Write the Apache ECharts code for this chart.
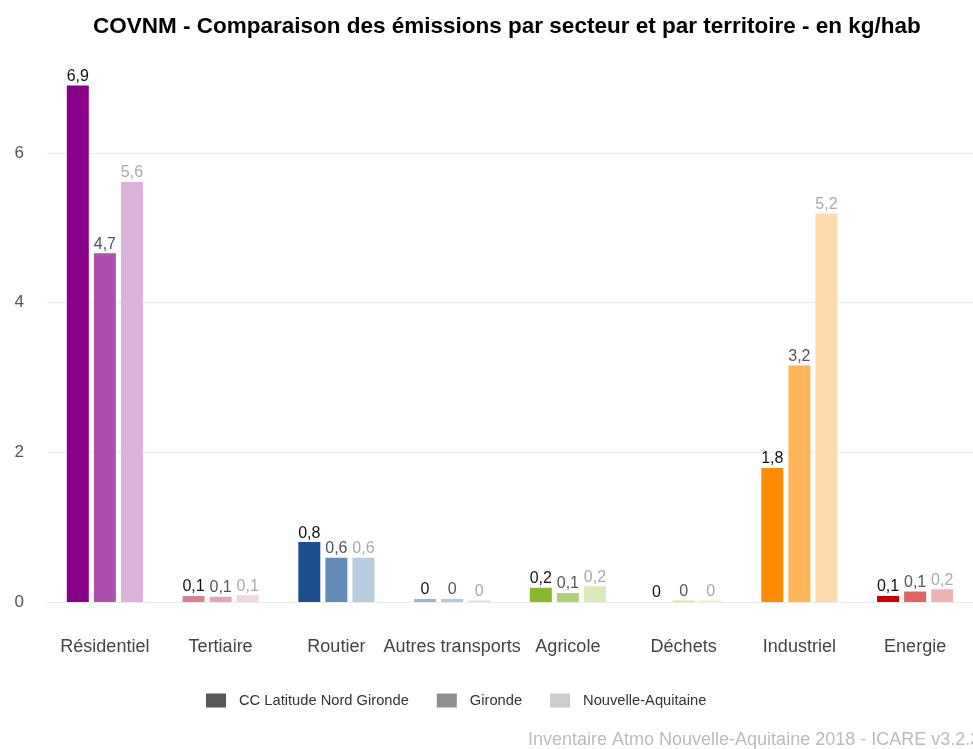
<!DOCTYPE html>
<html lang="fr">
<head>
    <meta charset="UTF-8">
    <title>COVNM</title>
    <style>
        body { margin: 0; background: #fff; }
    </style>
</head>
<body>
<div id="main" style="width: 973px;height:749px;"></div>
<script src="https://cdn.jsdelivr.net/npm/echarts@6/dist/echarts.min.js"></script>
<script>

// categories / territories
const secteurs = ['Résidentiel', 'Tertiaire', 'Routier', 'Autres transports', 'Agricole', 'Déchets', 'Industriel', 'Energie']
const territoires = ['CC Latitude Nord Gironde', 'Gironde', 'Nouvelle-Aquitaine']

// kg/hab
const valCC = [6.9, 0.08, 0.8, 0.04, 0.19, 0.0, 1.79, 0.08]
const valGironde = [4.66, 0.07, 0.59, 0.04, 0.12, 0.02, 3.16, 0.14]
const valNA = [5.61, 0.09, 0.59, 0.02, 0.21, 0.02, 5.19, 0.17]

// colour per sector, dark / mid / light
const couleurs = [
    ['#8b008b', '#ae4fae', '#dcb2dc'],
    ['#d4828f', '#e2a7b1', '#f1d6da'],
    ['#1b4f8e', '#628cb9', '#b8cce2'],
    ['#8dbad2', '#abcde0', '#d3e6ef'],
    ['#88b82b', '#b2d271', '#d9ebb6'],
    ['#f3dc4a', '#f6e27a', '#faefb5'],
    ['#ff8c00', '#ffb45a', '#ffdaaa'],
    ['#cc0000', '#e06464', '#f2b2b2']
]
const legendColors = ['#595959', '#8f8f8f', '#cccccc']
const labelColors = ['#111111', '#555555', '#aaaaaa']

const FONT = 'Liberation Sans, Arial, sans-serif'

let chartDom = document.getElementById('main')
let myChart = echarts.init(chartDom)

function fmt(p) {
    return Number(p.value.toFixed(1)).toString().replace('.', ',')
}

let allVals = [valCC, valGironde, valNA]
let series = allVals.map((vals, k) => {
    return {
        name: territoires[k],
        type: 'bar',
        barWidth: 22,
        barGap: '23%',
        itemStyle: {color: legendColors[k]},
        label: {
            show: true,
            position: 'top',
            distance: 1,
            fontSize: 16,
            fontFamily: FONT,
            color: labelColors[k],
            formatter: fmt
        },
        data: vals.map((v, i) => ({
            value: v,
            itemStyle: {color: couleurs[i][k]}
        }))
    }
})

let option = {
    animation: false,
    title: {
        text: 'COVNM - Comparaison des émissions par secteur et par territoire - en kg/hab',
        left: 88,
        top: 10,
        textStyle: {fontSize: 22.5, fontWeight: 'bold', color: '#000', fontFamily: FONT}
    },
    legend: {
        data: territoires.map((t, k) => ({name: t, itemStyle: {color: legendColors[k]}})),
        left: 201,
        top: 688,
        itemWidth: 20,
        itemHeight: 14,
        itemGap: 28,
        icon: 'rect',
        textStyle: {fontSize: 14.7, color: '#333', fontFamily: FONT, padding: [0, 0, 0, 8]}
    },
    grid: {left: 47, right: 0, top: 63, bottom: 147, containLabel: false},
    xAxis: {
        type: 'category',
        data: secteurs,
        axisLine: {show: false},
        axisTick: {show: false},
        axisLabel: {color: '#444', fontSize: 18, fontFamily: FONT, margin: 36, interval: 0}
    },
    yAxis: {
        type: 'value',
        min: 0,
        max: 7.2,
        interval: 2,
        axisLine: {show: false},
        axisTick: {show: false},
        axisLabel: {color: '#555', fontSize: 17, fontFamily: FONT, margin: 23, showMaxLabel: false},
        splitLine: {show: true, showMaxLine: false, lineStyle: {color: '#ebebeb', width: 1}}
    },
    graphic: [{
        type: 'text',
        left: 528,
        top: 731,
        style: {
            text: 'Inventaire Atmo Nouvelle-Aquitaine 2018 - ICARE v3.2.3',
            fill: '#bbbbbb',
            fontSize: 18,
            fontFamily: FONT
        }
    }],
    series: series
}

option && myChart.setOption(option)

</script>
</body>
</html>
